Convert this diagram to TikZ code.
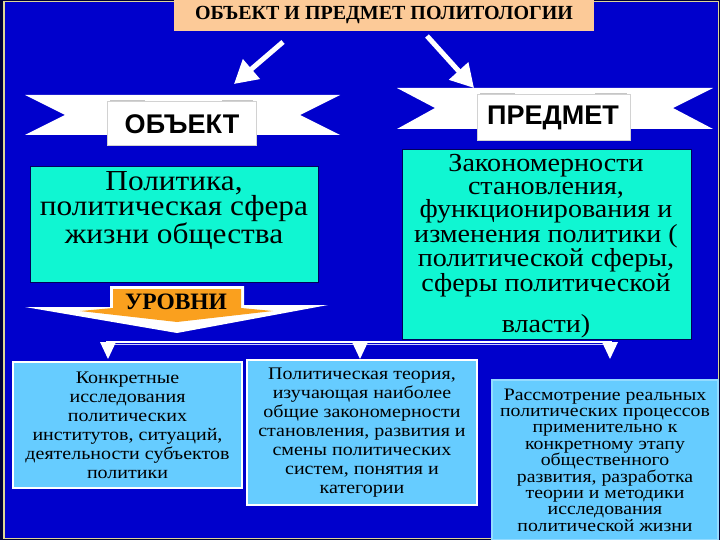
\documentclass[tikz,border=0pt]{standalone}
\usepackage{fontspec}
\setmainfont{Liberation Serif}
\setsansfont{Liberation Sans}
\newfontfamily\cyanfont{Liberation Serif}[FakeStretch=1.08]
\newfontfamily\boxfont{Liberation Serif}[FakeStretch=1.13]
\usetikzlibrary{arrows.meta,calc}
\definecolor{bgblue}{RGB}{0,0,204}
\definecolor{framek}{RGB}{222,214,150}
\definecolor{peach}{RGB}{252,202,152}
\definecolor{turq}{RGB}{16,246,210}
\definecolor{lblue}{RGB}{102,204,255}
\definecolor{orng}{RGB}{250,160,30}
\definecolor{navy}{RGB}{0,0,90}
\begin{document}
\begin{tikzpicture}[x=1pt,y=-1pt,
  turqbox/.style={fill=turq,draw=navy,line width=1pt},
  lbox/.style={fill=lblue,draw=white,line width=1.5pt,align=center,inner sep=0pt,
    font=\boxfont\fontsize{17.7}{19}\selectfont},
  bigtxt/.style={align=center,inner sep=0pt,text=black},
  ribbon/.style={fill=white},
  panel/.style={fill=white,draw=gray!35,line width=0.8pt},
  wharrow/.style={white,line width=5pt,-{Triangle[length=23pt,width=25pt]}},
  downtip/.style={fill=white}
]
\useasboundingbox (0,0) rectangle (720,540);
% background
\fill[navy!60!black] (0,0) rectangle (720,540);
\fill[bgblue] (4,1.5) rectangle (718.5,538.5);
\draw[framek,line width=1.5pt] (4,1.5) rectangle (718.5,538.5);

% title
\node[fill=peach,minimum width=420pt,minimum height=31pt,inner sep=0pt,
  font=\fontsize{20}{22}\selectfont\bfseries] (title) at (384,15.5)
  {ОБЪЕКТ И ПРЕДМЕТ ПОЛИТОЛОГИИ};

% white arrows
\coordinate (a1s) at (283,42);
\coordinate (a1e) at (234,84);
\coordinate (a2s) at (427,36);
\coordinate (a2e) at (474,88);
\draw[wharrow] (a1s) -- (a1e);
\draw[wharrow] (a2s) -- (a2e);

% ribbon object
\fill[ribbon] (25,95) -- (340,95) -- (300,115) -- (340,135) -- (25,135) -- (65,115) -- cycle;
\draw[panel] (107,101) rectangle (256,145);
\draw[gray!45,line width=1pt] (110,101) -- (145,101) (222,101) -- (253,101);
\node[font=\fontsize{27}{30}\selectfont\sffamily\bfseries,inner sep=0pt] (obj) at (182,124) {ОБЪЕКТ};

% ribbon predmet
\fill[ribbon] (397,88) -- (713,88) -- (673,108) -- (713,129) -- (397,129) -- (435,108) -- cycle;
\draw[panel] (477,94) rectangle (630,140);
\draw[gray!45,line width=1pt] (480,94) -- (515,94) (595,94) -- (627,94);
\node[font=\fontsize{27}{30}\selectfont\sffamily\bfseries,inner sep=0pt] (pred) at (553,118) {ПРЕДМЕТ};

% turquoise boxes
\draw[turqbox] (30,167) rectangle (318,282);
\node[bigtxt,font=\cyanfont\fontsize{29}{24.5}\selectfont,anchor=north] (pol) at (174,171)
  {Политика,\\ политическая сфера\\ жизни общества};
\draw[turqbox] (402,150) rectangle (691,339);
\node[bigtxt,font=\cyanfont\fontsize{26}{23}\selectfont,anchor=north] (zak) at (546,154)
  {Закономерности\\ становления,\\ функционирования и\\ изменения политики (\\ политической сферы,\\ сферы политической\\[17pt] власти)};

% levels arrow
\fill[white] (110,286) -- (244,286) -- (244,305) -- (328,305) -- (177,333) -- (25,307) -- (110,307) -- cycle;
\fill[orng] (113,289) -- (241,289) -- (241,308) -- (273,311) -- (177,322) -- (80,311) -- (113,308) -- cycle;
\node[font=\fontsize{23.5}{26}\selectfont\bfseries,inner sep=0pt] (lev) at (176,302) {УРОВНИ};

% connector
\coordinate (cl) at (106,342);
\coordinate (cr) at (612,342);
\draw[white!80!blue,line width=1.5pt] ($(cl)+(0,2.5)$) -- ($(cr)+(0,2.5)$);
\draw[white,line width=2.5pt] (cl) -- (cr);
\coordinate (t1) at (108,342);
\coordinate (t2) at (360,342);
\coordinate (t3) at (610,342);
\foreach \t in {t1,t2,t3}{
  \fill[downtip] ($(\t)+(-8,0)$) -- ($(\t)+(8,0)$) -- ($(\t)+(0,17)$) -- cycle;
}

% bottom boxes
\node[lbox,minimum width=229pt,minimum height=126pt] (b1) at (127.5,425)
  {Конкретные\\ исследования\\ политических\\ институтов, ситуаций,\\ деятельности субъектов\\ политики};
\node[lbox,minimum width=230pt,minimum height=145pt] (b2) at (362,432.5)
  {Политическая теория,\\ изучающая наиболее\\ общие закономерности\\ становления, развития и\\ смены политических\\ систем, понятия и\\ категории};
\node[lbox,draw=lblue!70!white,minimum width=226pt,minimum height=160pt,font=\boxfont\fontsize{17.5}{16.4}\selectfont] (b3) at (605,460)
  {Рассмотрение реальных\\ политических процессов\\ применительно к\\ конкретному этапу\\ общественного\\ развития, разработка\\ теории и методики\\ исследования\\ политической жизни};
\end{tikzpicture}
\end{document}
